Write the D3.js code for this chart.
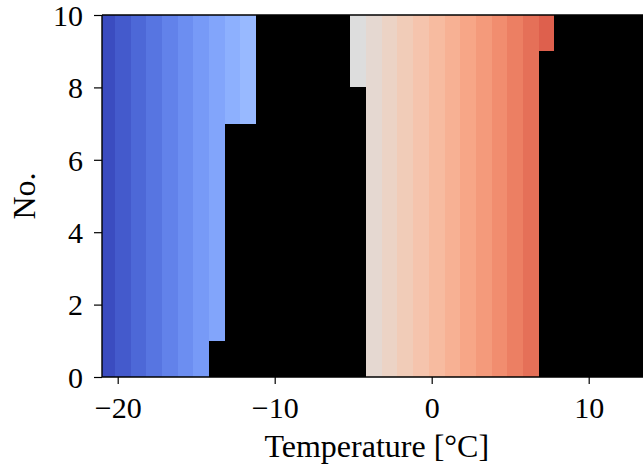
<!DOCTYPE html>
<html>
<head>
<meta charset="utf-8">
<script src="https://cdn.jsdelivr.net/npm/d3@7"></script>
<style>
  body { margin: 0; background: #fff; }
  text { font-family: "Liberation Serif", "DejaVu Serif", serif; fill: #000; }
</style>
</head>
<body>
<div id="chart"></div>
<script>
// rows ("No.") and the temperature range covered in each row
var rowNo   = [0, 1, 2, 3, 4, 5, 6, 7, 8, 9];
var coldMax = [-14.18, -13.18, -13.18, -13.18, -13.18, -13.18, -13.18, -11.18, -11.18, -11.18];
var warmMin = [-4.18, -4.18, -4.18, -4.18, -4.18, -4.18, -4.18, -4.18, -5.18, -5.18];
var warmMax = [6.82, 6.82, 6.82, 6.82, 6.82, 6.82, 6.82, 6.82, 6.82, 7.82];
var firstEdge = -21.18;   // left edge of the first 1 degree bin
var binWidth = 1;
var nBins = 33;           // bins the colour map is spread over

var xTicks = [-20, -10, 0, 10];
var yTicks = [0, 2, 4, 6, 8, 10];

// coolwarm colour map
var coolwarm = ["#3b4cc0","#445acc","#4d68d7","#5775e1","#6282ea","#6c8ef1","#779af7","#82a5fb",
  "#8db0fe","#98b9ff","#a3c2ff","#aec9fd","#b8d0f9","#c2d5f4","#ccd9ee","#d5dbe6","#dddddd",
  "#e5d8d1","#ecd3c5","#f1ccb8","#f5c4ad","#f7bba0","#f7b194","#f7a687","#f49a7b","#f18d6f",
  "#ec7f63","#e57058","#de604d","#d55042","#cb3e38","#c0282f","#b40426"];

var margin = {top: 15, left: 102},
    width = 549.5,
    height = 362;

var svg = d3.select("#chart").append("svg")
    .attr("width", 643)
    .attr("height", 470);

var x = d3.scaleLinear().domain([-21, 14]).range([0, width]);
var y = d3.scaleLinear().domain([0, 10]).range([height, 0]);

var firstCenter = firstEdge + binWidth / 2;
var color = d3.scaleSequential(d3.piecewise(d3.interpolateRgb, coolwarm))
    .domain([firstCenter, firstCenter + (nBins - 1) * binWidth]);

svg.append("defs").append("clipPath").attr("id", "plot-clip")
  .append("rect").attr("width", width).attr("height", height);

var g = svg.append("g")
    .attr("transform", "translate(" + margin.left + "," + margin.top + ")");

// black background of the axes
g.append("rect")
    .attr("width", width)
    .attr("height", height)
    .attr("fill", "#000");

// build the cells: one per row per bin
var cells = [];
rowNo.forEach(function(r, i) {
  for (var e = firstEdge; e < coldMax[i] - binWidth / 2; e += binWidth) {
    cells.push({row: r, lo: e, hi: e + binWidth});
  }
  for (var e2 = warmMin[i]; e2 < warmMax[i] - binWidth / 2; e2 += binWidth) {
    cells.push({row: r, lo: e2, hi: e2 + binWidth});
  }
});

g.append("g")
    .attr("clip-path", "url(#plot-clip)")
  .selectAll("rect")
  .data(cells)
  .enter().append("rect")
    .attr("x", function(d) { return x(d.lo); })
    .attr("y", function(d) { return y(d.row + 1); })
    .attr("width", function(d) { return x(d.hi) - x(d.lo); })
    .attr("height", function(d) { return y(d.row) - y(d.row + 1); })
    .attr("fill", function(d) { return color((d.lo + d.hi) / 2); })
    .attr("shape-rendering", "crispEdges");

// axes
var xAxis = g.append("g")
    .attr("transform", "translate(0," + height + ")")
    .call(d3.axisBottom(x).tickValues(xTicks).tickSize(7).tickPadding(12));

var yAxis = g.append("g")
    .call(d3.axisLeft(y).tickValues(yTicks).tickSize(8).tickPadding(11));

[xAxis, yAxis].forEach(function(a) {
  a.select(".domain").remove();
  a.selectAll(".tick line").attr("stroke", "#000").attr("stroke-width", 1.2);
  a.selectAll(".tick text")
    .style("font-size", "30px")
    .attr("fill", "#000");
});
xAxis.selectAll(".tick text").attr("dy", "0.74em");
yAxis.selectAll(".tick text").attr("dy", "0.34em");

// spines: left, top, bottom
g.append("line").attr("x1", 0).attr("x2", 0).attr("y1", 0).attr("y2", height)
    .attr("stroke", "#000").attr("stroke-width", 1.4);
g.append("line").attr("x1", 0).attr("x2", width).attr("y1", 0).attr("y2", 0)
    .attr("stroke", "#000").attr("stroke-width", 1.4);
g.append("line").attr("x1", 0).attr("x2", width).attr("y1", height).attr("y2", height)
    .attr("stroke", "#000").attr("stroke-width", 1.4);

// axis titles
svg.append("text")
    .attr("x", margin.left + width / 2)
    .attr("y", 457)
    .attr("text-anchor", "middle")
    .style("font-size", "32px")
    .text("Temperature [°C]");

svg.append("text")
    .attr("transform", "translate(35," + (margin.top + height / 2) + ") rotate(-90)")
    .attr("text-anchor", "middle")
    .style("font-size", "32px")
    .text("No.");
</script>
</body>
</html>
